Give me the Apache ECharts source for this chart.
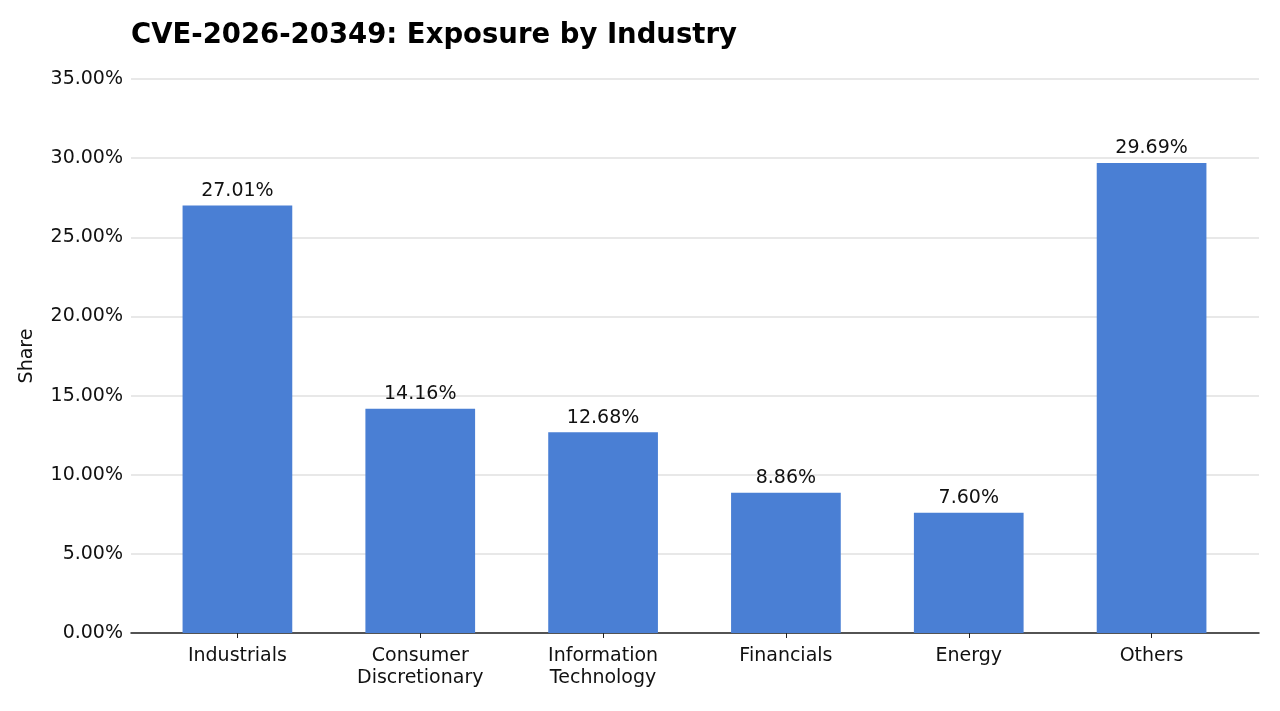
<!DOCTYPE html>
<html lang="en" style="height: 100%">
<head>
    <meta charset="utf-8">
</head>
<body style="height: 100%; margin: 0; background: #fff">
    <div id="container" style="height: 100%"></div>
    <script type="text/javascript" src="https://cdn.jsdelivr.net/npm/echarts@6/dist/echarts.min.js"></script>
    <script type="text/javascript">
        const categories = ['Industrials', 'Consumer\nDiscretionary', 'Information\nTechnology', 'Financials', 'Energy', 'Others'];
        const shares = [27.01, 14.16, 12.68, 8.86, 7.60, 29.69];

        var myChart = echarts.init(document.getElementById('container'), null, { renderer: 'canvas' });
        var font = 'DejaVu Sans';

        var option = {
            textStyle: { fontFamily: font },
            title: {
                text: 'CVE-2026-20349: Exposure by Industry',
                left: 126,
                top: 17,
                textStyle: { fontFamily: font, fontSize: 27.5, fontWeight: 'bold', color: '#000' }
            },
            // grid 0: full width gridlines + axis line; grid 1: bars with side margins
            grid: [
                { left: 131, right: 21, top: 79, bottom: 78 },
                { left: 146, right: 37, top: 79, bottom: 78 }
            ],
            xAxis: [{
                type: 'value',
                gridIndex: 0,
                min: 0, max: 1,
                axisLine: { show: true, onZero: false, lineStyle: { color: '#222', width: 1.5 } },
                axisTick: { show: false },
                axisLabel: { show: false },
                splitLine: { show: false }
            }, {
                type: 'category',
                gridIndex: 1,
                data: categories,
                axisLine: { show: false },
                axisTick: { show: true, alignWithLabel: true, length: 5, lineStyle: { color: '#222' } },
                axisLabel: { fontSize: 19, color: '#111', lineHeight: 22, margin: 12, fontFamily: font }
            }],
            yAxis: [{
                type: 'value',
                gridIndex: 0,
                min: 0,
                max: 35,
                interval: 5,
                name: 'Share',
                nameLocation: 'middle',
                nameGap: 94,
                nameTextStyle: { fontSize: 19, color: '#111', fontFamily: font },
                axisLabel: {
                    fontSize: 19, color: '#111', margin: 8, fontFamily: font,
                    formatter: v => v.toFixed(2) + '%'
                },
                axisLine: { show: false },
                axisTick: { show: false },
                splitLine: { lineStyle: { color: '#e0e0e0', width: 1.5 } }
            }, {
                type: 'value',
                gridIndex: 1,
                min: 0,
                max: 35,
                interval: 5,
                axisLabel: { show: false },
                axisLine: { show: false },
                axisTick: { show: false },
                splitLine: { show: false }
            }],
            series: [{
                type: 'bar',
                xAxisIndex: 1,
                yAxisIndex: 1,
                data: shares,
                barWidth: '60%',
                itemStyle: { color: '#4a7fd4' },
                label: {
                    show: true,
                    position: 'top',
                    distance: 5,
                    fontSize: 19,
                    color: '#111',
                    fontFamily: font,
                    formatter: p => p.value.toFixed(2) + '%'
                }
            }]
        };

        myChart.setOption(option);
        window.addEventListener('resize', myChart.resize);
    </script>
</body>
</html>
